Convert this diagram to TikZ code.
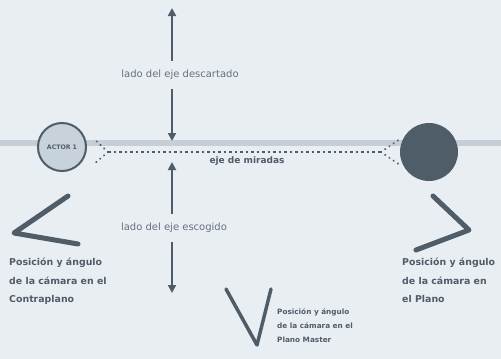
\documentclass[tikz,border=0pt]{standalone}
\usepackage{fontspec}
\setmainfont{DejaVu Sans}
\usetikzlibrary{arrows.meta}
\definecolor{bg}{HTML}{E9EEF3}
\definecolor{dk}{HTML}{4F5D68}
\definecolor{band}{HTML}{C7CFD6}
\definecolor{lt}{HTML}{C8D2DB}
\definecolor{lbl}{HTML}{66727D}
\tikzset{
  axis/.style={dk, line width=1.8pt, -{Triangle[width=8pt,length=8pt]}},
  sight/.style={dk, line width=2pt, dash pattern=on 2.5pt off 3pt},
  fan/.style={dk, line width=2.2pt, line cap=round, dash pattern=on 0.1pt off 5pt},
  camshape/.style={dk, line width=5pt, line cap=round, line join=round},
  axlbl/.style={lbl, font=\fontsize{10}{12}\selectfont, inner sep=1pt},
  camtxt/.style={dk, font=\bfseries\fontsize{9.4}{18.5}\selectfont, align=left, inner sep=0pt, anchor=north west},
}
\begin{document}
\begin{tikzpicture}[x=1pt,y=-1pt]
\fill[bg] (0,0) rectangle (501,359);
\useasboundingbox (0,0) rectangle (501,359);
% horizontal band
\draw[band, line width=6pt] (0,143) -- (501,143);
% actors
\node[circle, draw=dk, line width=2pt, fill=lt, minimum size=48pt, inner sep=0pt,
      font=\bfseries\fontsize{6.2}{7}\selectfont, text=dk] (actA) at (62,147) {ACTOR 1};
\node[circle, fill=dk, minimum size=58pt, inner sep=0pt] (actB) at (429,152) {};
% line of sight
\coordinate (la) at (108,152);
\coordinate (ra) at (381,152);
\coordinate (la1) at (94,139);
\coordinate (la2) at (94,164);
\coordinate (ra1) at (400,139);
\coordinate (ra2) at (400,165);
\draw[sight] (la) -- (ra);
\draw[fan] (la) -- (la1);
\draw[fan] (la) -- (la2);
\draw[fan] (ra) -- (ra1);
\draw[fan] (ra) -- (ra2);
\node[axlbl, text=dk, font=\bfseries\fontsize{9}{11}\selectfont] (eje) at (247,161) {eje de miradas};
% vertical axes
\coordinate (t1) at (172,8);
\coordinate (t2) at (172,141);
\coordinate (b1) at (172,162);
\coordinate (b2) at (172,293);
\node[axlbl] (ltop) at (180,75) {lado del eje descartado};
\node[axlbl] (lbot) at (174,228) {lado del eje escogido};
\draw[axis] (ltop.north -| t1) ++(0,-8) -- (t1);
\draw[axis] (ltop.south -| t1) ++(0,8) -- (t2);
\draw[axis] (lbot.north -| b1) ++(0,-8) -- (b1);
\draw[axis] (lbot.south -| b1) ++(0,8) -- (b2);
% camera shapes
\draw[camshape] (68,196) -- (14,233) -- (78,244);
\draw[camshape] (433,196) -- (469,230) -- (416,250);
\draw[camshape, line width=3.5pt] (226,289) -- (257,345) -- (271,289);
% camera texts
\node[camtxt] (tl) at (9,258) {Posición y ángulo\\de la cámara en el\\Contraplano};
\node[camtxt] (tr) at (402,258) {Posición y ángulo\\de la cámara en\\el Plano};
\node[camtxt, font=\bfseries\fontsize{7.3}{14}\selectfont] (tv) at (277,308) {Posición y ángulo\\de la cámara en el\\Plano Master};
\end{tikzpicture}
\end{document}
